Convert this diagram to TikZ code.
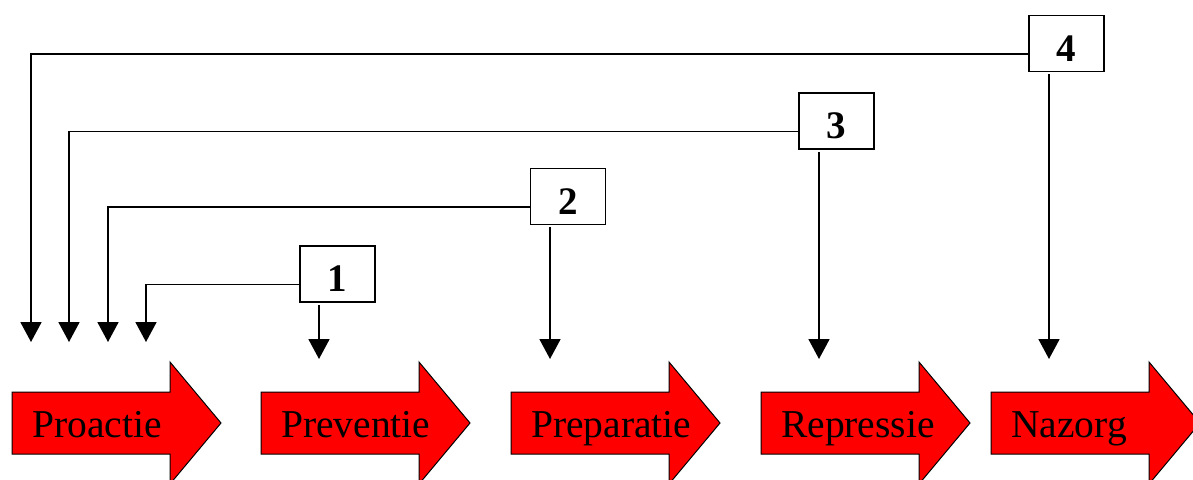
\documentclass[tikz,border=0pt]{standalone}
\usepackage{fontspec}
\setmainfont{Liberation Serif}
\usetikzlibrary{arrows.meta,calc}
\tikzset{
  numbox/.style={draw=black, line width=1.5pt, fill=white, minimum width=75pt, minimum height=56pt,
    inner sep=0pt, text height=35pt, text depth=0pt, font=\fontsize{39}{40}\selectfont\bfseries},
  conn/.style={line width=1.8pt, -{Triangle[width=21pt,length=20pt]}},
  phase/.style={fill=red, draw=black, line width=1pt},
  phaselabel/.style={anchor=base west, inner sep=0pt, font=\fontsize{39.5}{40}\selectfont}
}
\begin{document}
\begin{tikzpicture}[x=1pt,y=-1pt]
\useasboundingbox (0,0) rectangle (1193,479);
\clip (0,0) rectangle (1193,479);
% phase arrows
\foreach \x/\lab/\nm in {12/Proactie/p1, 261/Preventie/p2, 511/Preparatie/p3, 761/Repressie/p4, 991/Nazorg/p5}{
  \path[phase] (\x,392) -- ++(158,0) -- ++(0,-30) -- ++(51,61) -- ++(-51,61) -- ++(0,-30) -- (\x,454) -- cycle;
  \node[phaselabel] (\nm) at (\x+20,437) {\lab};
}
% numbered boxes
\node[numbox] (b1) at (337.5,274) {1};
\node[numbox] (b2) at (568,196.5) {2};
\node[numbox] (b3) at (836.5,121) {3};
\node[numbox] (b4) at (1066.5,43.5) {4};
% arrow targets
\coordinate (t1) at (146,342);
\coordinate (t2) at (108,342);
\coordinate (t3) at (69,342);
\coordinate (t4) at (31,342);
\coordinate (d1) at (319,359);
\coordinate (d2) at (550,359);
\coordinate (d3) at (819,359);
\coordinate (d4) at (1049,359);
% connectors to the left
\draw[conn] ([yshift=-10.5pt]b1.west) -| (t1);
\draw[conn] ([yshift=-10.5pt]b2.west) -| (t2);
\draw[conn] ([yshift=-10.5pt]b3.west) -| (t3);
\draw[conn] ([yshift=-10.5pt]b4.west) -| (t4);
% connectors down
\draw[conn] ([xshift=-18.5pt,yshift=-2pt]b1.south) -- (d1);
\draw[conn] ([xshift=-18pt,yshift=-2pt]b2.south) -- (d2);
\draw[conn] ([xshift=-17.5pt,yshift=-2pt]b3.south) -- (d3);
\draw[conn] ([xshift=-17.5pt,yshift=-2pt]b4.south) -- (d4);
\end{tikzpicture}
\end{document}
